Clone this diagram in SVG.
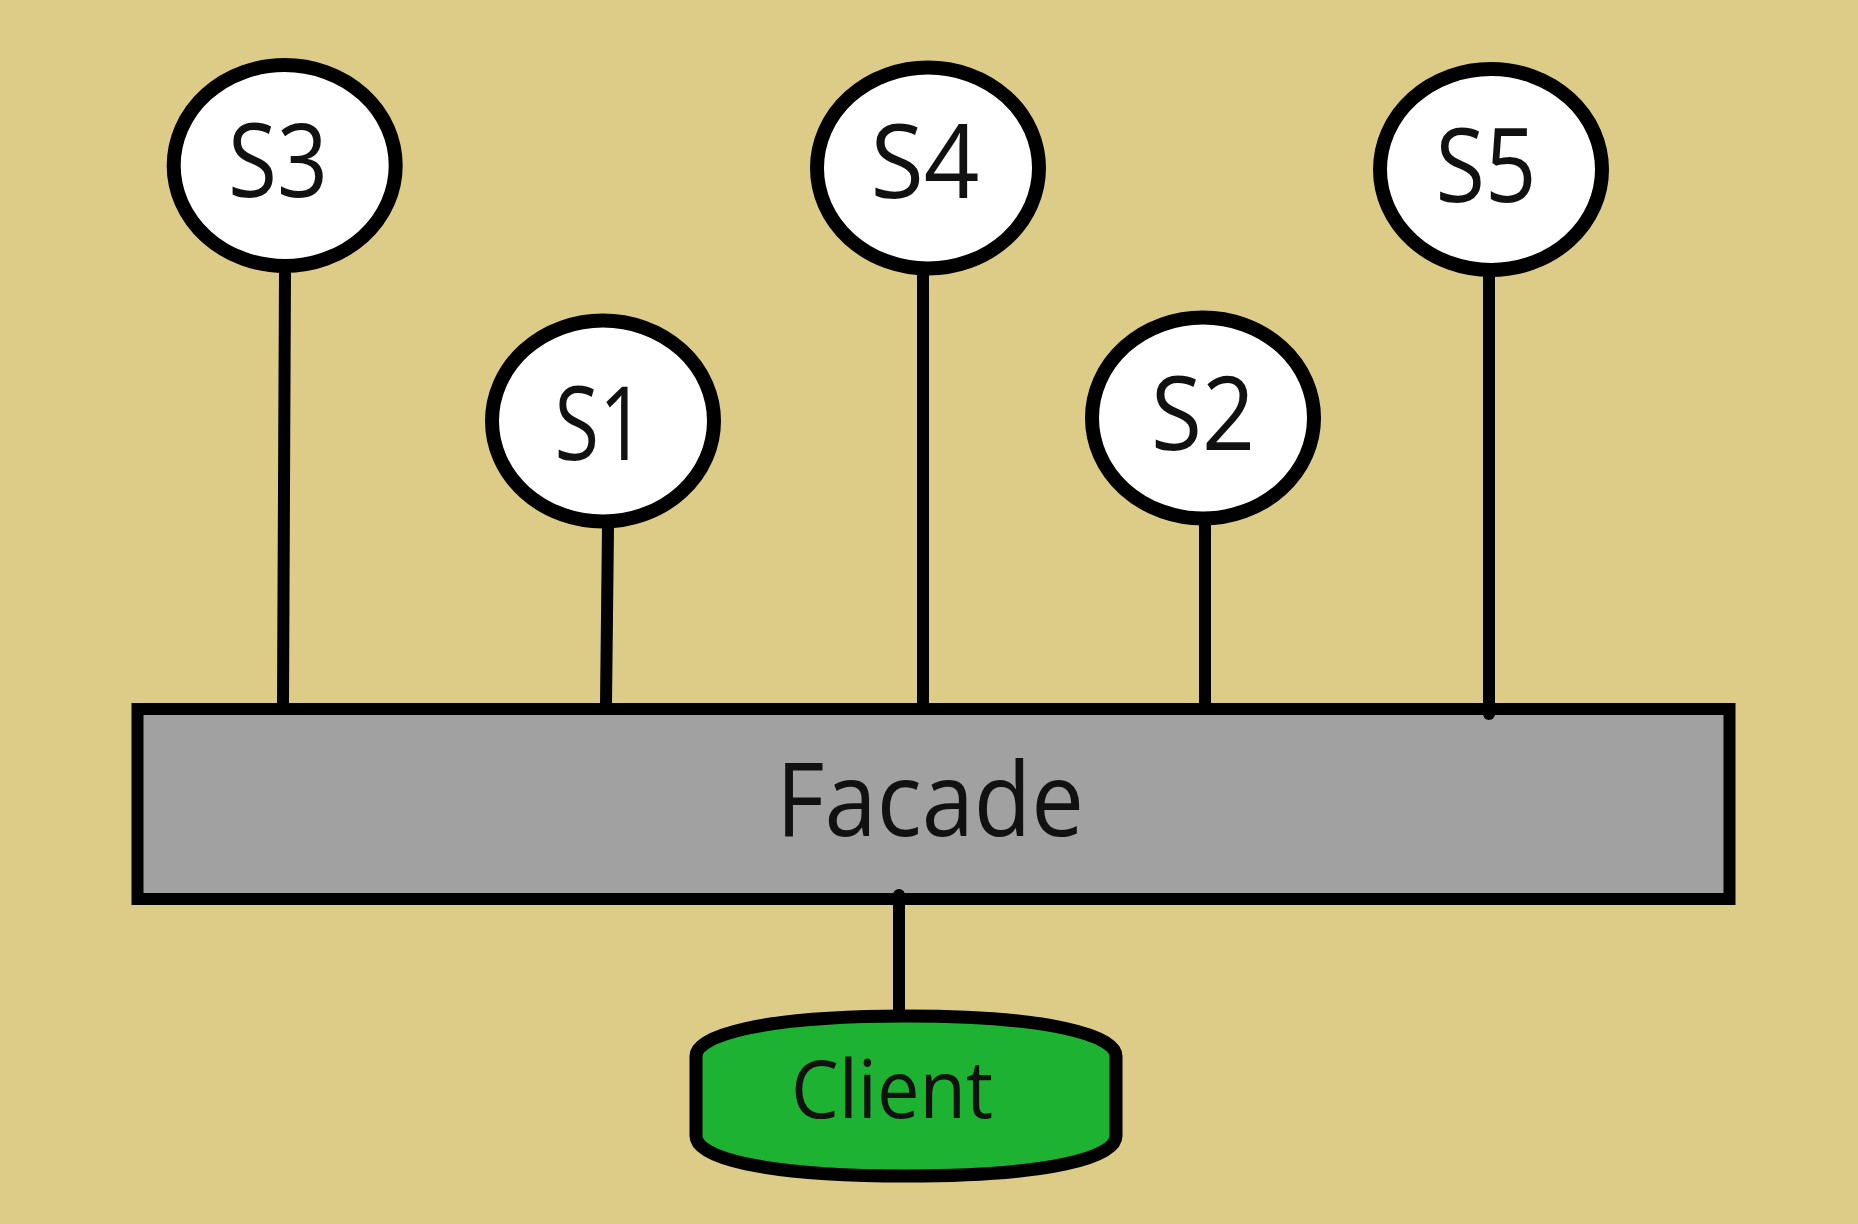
<svg xmlns="http://www.w3.org/2000/svg" width="1858" height="1224" viewBox="0 0 1858 1224">
<style>
.bg{fill:#dccc87}
.svc{fill:#ffffff;stroke:#000;stroke-width:14}
.lbl{font-family:"Open Sans","Noto Sans","DejaVu Sans",sans-serif;fill:#111;text-anchor:middle}
.conn{stroke:#000;stroke-width:12;stroke-linecap:round;fill:none}
</style>
<rect class="bg" x="0" y="0" width="1858" height="1224"/>
<g id="facade">
<rect x="137.5" y="709" width="1592" height="190" fill="#a1a1a1" stroke="#000" stroke-width="12"/>
<text class="lbl" x="930" y="836" font-size="102" textLength="308" lengthAdjust="spacingAndGlyphs">Facade</text>
</g>
<g id="client">
<path d="M696,1056 C696,1036 760,1016 906,1016 C1052,1016 1116,1036 1116,1056 L1116,1136 C1116,1157 1052,1176 906,1176 C760,1176 696,1157 696,1136 Z" fill="#1db232" stroke="#000" stroke-width="13"/>
<text class="lbl" x="892" y="1118" font-size="80" textLength="202" lengthAdjust="spacingAndGlyphs">Client</text>
</g>
<g id="connectors">
<line class="conn" x1="285" y1="272" x2="283" y2="703"/>
<line class="conn" x1="608" y1="527" x2="606" y2="703"/>
<line class="conn" x1="923" y1="274" x2="923" y2="703"/>
<line class="conn" x1="1205" y1="524" x2="1205" y2="703"/>
<line class="conn" x1="1489" y1="270" x2="1489" y2="714"/>
<line class="conn" x1="899" y1="895" x2="899" y2="1010"/>
</g>
<g id="S3">
<ellipse class="svc" cx="284.7" cy="165.5" rx="111" ry="100.5"/>
<text class="lbl" x="278" y="197" font-size="102" textLength="100" lengthAdjust="spacingAndGlyphs">S3</text>
</g>
<g id="S1">
<ellipse class="svc" cx="603" cy="421" rx="111" ry="100.5"/>
<text class="lbl" x="600" y="460" font-size="102" textLength="91" lengthAdjust="spacingAndGlyphs">S1</text>
</g>
<g id="S4">
<ellipse class="svc" cx="928" cy="168" rx="111" ry="100.5"/>
<text class="lbl" x="925" y="198" font-size="102" textLength="109" lengthAdjust="spacingAndGlyphs">S4</text>
</g>
<g id="S2">
<ellipse class="svc" cx="1203" cy="418" rx="111" ry="100.5"/>
<text class="lbl" x="1203" y="450" font-size="102" textLength="104" lengthAdjust="spacingAndGlyphs">S2</text>
</g>
<g id="S5">
<ellipse class="svc" cx="1491" cy="169.5" rx="111" ry="100.5"/>
<text class="lbl" x="1486" y="202" font-size="102" textLength="101" lengthAdjust="spacingAndGlyphs">S5</text>
</g>
</svg>
